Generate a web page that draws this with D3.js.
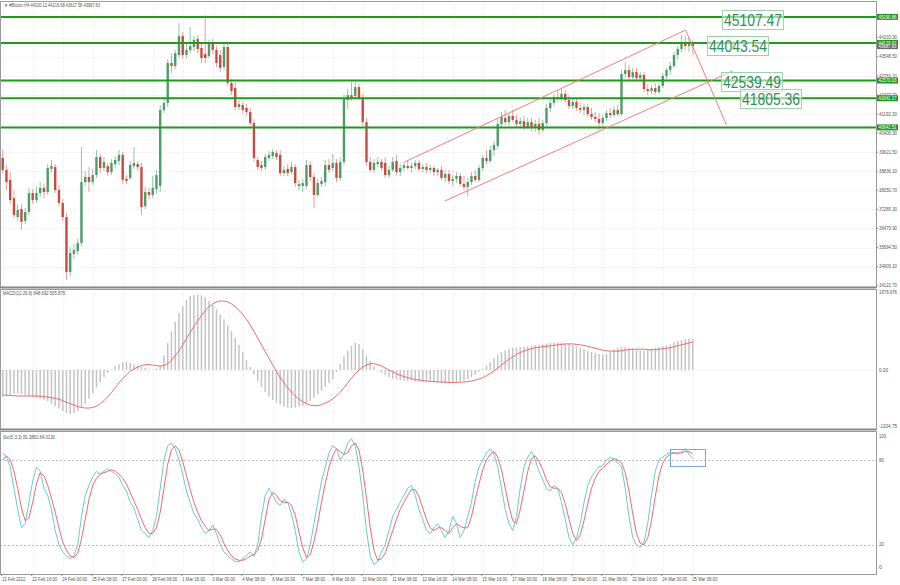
<!DOCTYPE html>
<html><head><meta charset="utf-8">
<script src="https://cdn.jsdelivr.net/npm/d3@7"></script>
<style>body{margin:0;background:#fff}svg{display:block;font-family:"Liberation Sans",Arial,sans-serif}</style>
</head><body><svg id="c" width="900" height="585"></svg>
<script>
// H4 candles: [open, high, low, close]
const ohlc=[
[39380,39710,38760,38890],[38890,39090,38060,38390],[38480,38800,37490,37650],[37730,38060,36910,37030],[36950,37450,36790,37240],
[37280,37490,36420,36750],[36790,37320,36660,37160],[37160,38150,37030,37940],[37940,38100,37490,37650],[37650,38190,37530,37940],
[37940,38390,37780,38150],[38150,38310,37730,37980],[37980,39130,37860,38970],[38930,39300,38800,39050],[39010,39130,37940,38060],
[38060,38270,37400,37530],[37530,37690,36790,36950],[36950,37120,34360,34690],[34690,35720,34520,35470],[35430,35840,35220,35590],
[35550,36050,35390,35880],[35880,39830,35760,38390],[38390,38850,38230,38600],[38600,39010,37980,38390],[38390,38930,38270,38680],
[38680,39710,38560,39420],[39420,39550,38760,38970],[38970,39420,38850,39220],[39050,39180,38640,38800],[38800,39340,38680,39180],
[39130,39460,38970,39300],[39260,39710,39090,39510],[39510,39630,38310,38480],[38520,38680,38310,38430],[38560,39260,38480,39090],
[39050,39830,38930,39180],[39130,39260,38850,39010],[39010,39180,37030,37360],[37400,38190,37280,37980],[37980,38150,37690,37860],
[37860,38640,37730,38150],[38100,38890,37900,38680],[38230,41560,37980,41360],[41360,41810,41230,41650],[41650,43460,41480,43290],
[43290,43700,42880,43170],[43170,43830,43040,43700],[43620,44940,43500,44400],[44400,44570,43460,43620],[43620,44080,43460,43830],
[43830,44770,43700,43990],[43950,44400,43790,44240],[44280,44440,43700,43870],[43910,44080,43290,43500],[43660,45270,43290,43500],
[43580,44240,43500,44120],[44120,44280,43660,43830],[43830,43990,43130,43290],[43620,43830,42920,43090],[43130,44080,43000,43950],
[43950,44080,42350,42470],[42470,42630,41970,42140],[42260,42510,41360,41480],[41480,41770,41360,41600],[41560,41690,41230,41360],
[41440,41600,41150,41280],[41280,41440,40700,40820],[40820,40990,39220,39380],[39300,39420,38890,39010],[39090,39260,38850,38970],
[39010,39550,38890,39420],[39380,39670,39260,39510],[39460,39750,39340,39630],[39590,39710,39300,39420],[39510,39710,38640,38760],
[38760,39050,38640,38890],[38930,39130,38640,38760],[38800,39220,38720,39010],[39010,39130,38190,38350],[38230,38480,38060,38310],
[38230,38520,37980,38350],[38230,39300,38100,39090],[39090,39260,38430,38600],[38600,38760,37320,37860],[37860,38520,37780,38350],
[38310,38600,38190,38430],[38390,39300,38230,39090],[39090,39340,38760,38890],[38970,39550,38850,39180],[39180,39340,38390,38560],
[38560,39420,38430,39220],[39220,42020,39090,41850],[41770,42220,41400,41970],[41970,42510,41730,41850],[41930,42550,41850,42300],
[42300,42430,41770,41850],[41850,42020,40700,40860],[40860,41030,39050,39220],[39220,39420,38800,38890],[38890,39340,38760,39180],
[39130,39420,39010,39220],[39220,39340,38850,38970],[39180,39420,38560,38680],[38680,39050,38560,38890],[38890,39420,38800,39220],
[39260,39510,38680,38800],[38800,39130,38640,38970],[38970,39220,38850,39090],[39050,39300,38890,38970],[38970,39180,38800,39050],
[39050,39300,38930,39180],[39180,39300,38850,38930],[38930,39130,38800,39010],[39010,39180,38760,38890],[38890,39090,38760,38970],
[38970,39050,38640,38800],[38800,38970,38640,38890],[38890,39050,38480,38560],[38560,38890,38390,38720],[38720,38890,38310,38430],
[38430,38680,38230,38520],[38520,38800,38350,38640],[38640,38760,38230,38310],[38310,38640,38060,38190],[38190,38560,37820,38390],
[38390,38800,38270,38640],[38640,38890,38390,38480],[38480,39090,38390,38970],[38970,39510,38850,39380],[39380,39710,39130,39260],
[39260,39880,39180,39710],[39710,40080,39460,39920],[39880,41030,39750,40780],[40780,41280,40620,41070],[41030,41360,40740,40860],
[40860,41190,40700,41110],[41110,41360,40860,40950],[40950,41150,40660,40780],[40780,41070,40620,40900],[40900,41110,40530,40660],
[40660,41030,40580,40860],[40860,41030,40490,40620],[40620,40950,40450,40780],[40780,41030,40330,40530],[40530,40950,40450,40820],
[40820,41600,40700,41440],[41440,41770,41280,41650],[41650,42020,41520,41890],[41890,42180,41690,41810],[41810,42260,41730,42020],
[42020,42180,41650,41770],[41770,41970,41400,41520],[41520,41810,41400,41690],[41690,41810,41320,41440],[41440,41650,41230,41360],
[41360,41600,41150,41480],[41480,41600,41070,41190],[41190,41440,40950,41070],[41070,41280,40860,40990],[40990,41230,40530,40820],
[40820,41150,40700,41030],[41030,41360,40900,41230],[41230,41440,41030,41150],[41150,41520,41070,41360],[41360,41560,41110,41190],
[41190,43000,41110,42840],[42840,43330,42670,43000],[43000,43210,42590,42710],[42710,43090,42630,42920],[42920,43090,42510,42670],
[42670,42920,42590,42800],[42800,42920,42100,42220],[42220,42430,41970,42140],[42140,42390,42020,42260],[42260,42470,41970,42100],
[42100,42430,42020,42350],[42350,42880,42260,42760],[42760,43090,42630,43000],[43000,43330,42840,43170],[43170,43750,43090,43620],
[43620,43990,43420,43870],[43870,44440,43750,44160],[44160,44400,43830,43990],[43990,44360,43750,44120],[44100.12,44219.68,43617.58,43987.83]];
const macdMain=[-560,-540,-520,-500,-480,-500,-520,-540,-560,-580,-600,-620,-650,-700,-750,-800,-850,-900,-920,-900,-850,-780,-700,-600,-480,-360,-250,-150,-60,20,80,120,160,170,150,120,90,70,40,20,10,30,80,300,560,800,1000,1180,1320,1450,1530,1560,1570,1550,1500,1430,1350,1260,1150,1050,930,800,660,520,370,210,60,-90,-230,-360,-460,-550,-620,-680,-720,-760,-780,-790,-780,-760,-740,-700,-640,-580,-510,-430,-350,-270,-190,-40,120,280,400,500,560,540,430,300,180,80,0,-60,-110,-150,-180,-200,-210,-220,-230,-230,-240,-240,-250,-250,-250,-260,-260,-270,-270,-270,-260,-250,-240,-220,-190,-150,-100,-40,20,90,160,240,310,370,410,440,460,470,470,480,490,500,510,520,530,540,560,570,570,560,550,540,520,490,460,430,400,370,350,330,320,330,380,430,460,480,480,460,440,420,410,400,410,440,460,480,490,510,530,570,600,620,640,650,640];
const macdSignal=[-520,-525,-530,-535,-540,-540,-540,-540,-540,-540,-545,-550,-560,-575,-590,-610,-640,-670,-700,-730,-760,-780,-790,-790,-780,-750,-700,-640,-560,-470,-370,-270,-180,-100,-30,20,60,90,110,110,100,90,80,90,130,200,290,400,520,650,780,900,1020,1130,1230,1310,1370,1410,1430,1430,1410,1370,1310,1240,1150,1050,930,800,660,520,380,240,100,-30,-160,-270,-370,-460,-540,-610,-660,-700,-730,-740,-740,-720,-690,-650,-600,-540,-460,-370,-270,-170,-80,0,60,100,130,130,110,80,40,0,-40,-80,-110,-140,-160,-180,-200,-210,-220,-230,-240,-240,-250,-250,-255,-260,-260,-260,-255,-250,-240,-230,-210,-190,-160,-120,-70,-20,40,100,160,220,270,320,360,390,420,440,460,470,480,490,500,510,520,530,540,540,540,530,520,510,490,470,450,430,410,400,390,390,390,400,410,420,430,430,430,430,420,420,420,430,440,450,460,480,500,520,540,560,580];
const stochK=[85,82,75,60,45,32,35,50,65,75,72,60,55,45,30,20,15,12,10,12,20,40,55,62,68,72,70,72,74,72,70,68,62,58,50,46,38,30,28,25,30,40,60,80,90,92,88,80,70,58,50,42,38,32,28,30,34,28,20,15,12,10,8,8,10,12,15,12,20,40,55,60,55,50,48,52,50,42,30,15,8,10,20,35,50,65,75,85,90,88,80,84,92,95,90,75,55,30,12,6,8,15,20,30,40,45,50,55,60,62,55,45,38,30,28,32,35,30,25,30,40,35,25,30,40,50,65,75,80,85,88,84,75,60,45,35,30,40,60,75,82,86,80,72,66,60,58,62,60,50,38,25,20,25,35,50,62,68,72,75,76,80,82,80,78,75,60,40,25,20,18,22,35,55,72,80,82,84,86,85,84,86,88,84,81];
const stochD=[80,83,80,72,60,46,37,39,50,63,71,69,62,53,43,32,22,16,12,11,14,24,38,52,62,67,70,71,72,73,72,70,67,63,57,51,45,38,32,28,28,32,43,60,77,87,90,87,79,69,59,50,43,37,33,30,31,31,27,21,16,12,10,9,9,10,12,13,16,24,38,52,57,55,51,50,50,48,41,29,18,11,13,22,35,50,63,75,83,88,86,84,85,90,92,87,73,53,32,16,9,10,14,22,30,38,45,50,55,59,59,54,46,38,32,30,32,32,30,28,32,35,33,32,32,40,52,63,73,80,84,86,82,73,60,47,37,35,45,58,72,81,83,79,73,66,61,60,60,57,49,38,28,23,27,37,49,60,67,72,74,77,79,81,80,78,71,58,42,28,21,20,25,37,54,69,78,82,84,85,85,85,86,86,84];
const dateLabels=["21 Feb 2022","22 Feb 16:00","24 Feb 00:00","25 Feb 08:00","27 Feb 00:00","28 Feb 08:00","1 Mar 16:00","3 Mar 00:00","4 Mar 08:00","6 Mar 00:00","7 Mar 08:00","8 Mar 16:00","10 Mar 00:00","11 Mar 08:00","12 Mar 16:00","14 Mar 08:00","15 Mar 16:00","17 Mar 00:00","18 Mar 08:00","20 Mar 00:00","21 Mar 08:00","22 Mar 16:00","24 Mar 00:00","25 Mar 08:00"];
const priceTicks=[34123.70,34909.10,35694.50,36479.90,37265.30,38050.70,38836.10,39621.50,40406.90,41192.30,41977.70,42763.10,43548.50,44333.90];
const levels=[45190.86,44120.62,42570.03,41841.17,40641.51];
const notes=[{t:"45107.47",x:722,y0:10},{t:"44043.54",x:707,y0:36},{t:"42539.49",x:721,y0:72},{t:"41805.36",x:740,y0:89}];
// trend lines: [bar index, price] -> [bar index, price]
const trendLines=[[107.2,39220,182.1,44650],[182.1,44650,193,40740],[117.9,37610,194.6,42960]];
const lastPrice=43987.83;

const svg=d3.select("#c");
const W=876;
const x=d3.scaleLinear().domain([0,183.8]).range([2.7,692]);
const y=d3.scaleLinear().domain([34123.7,44333.9]).range([285.7,37.7]);
const ym=d3.scaleLinear().domain([-1204.75,1678.976]).range([428,289]);
const ys=d3.scaleLinear().domain([0,100]).range([573,431.7]);
const panels=[[1,287],[289,429],[431,574]];

// grid
const g=svg.append("g");
panels.forEach(p=>{
  dateLabels.forEach((d,k)=>{const xx=Math.round(x(k*8))+0.5;g.append("line").attr("x1",xx).attr("x2",xx).attr("y1",p[0]).attr("y2",p[1]).attr("stroke","#ececec").attr("stroke-dasharray","1,1");});
});
priceTicks.forEach(t=>{const yy=Math.round(y(t))+0.5;g.append("line").attr("x1",0).attr("x2",W).attr("y1",yy).attr("y2",yy).attr("stroke","#ececec").attr("stroke-dasharray","1,1");});
[ys(80),ys(20)].forEach(yy=>g.append("line").attr("x1",0).attr("x2",W).attr("y1",Math.round(yy)+0.5).attr("y2",Math.round(yy)+0.5).attr("stroke","#bbb").attr("stroke-dasharray","2,2"));
g.append("line").attr("x1",0).attr("x2",W).attr("y1",Math.round(ym(0))+0.5).attr("y2",Math.round(ym(0))+0.5).attr("stroke","#ececec").attr("stroke-dasharray","1,1");

// candles
const cg=svg.append("g");
ohlc.forEach((d,i)=>{
  const [o,h,l,c]=d, up=c>=o;
  const col=up?"#4f9b69":"#c94a40",wc=up?"#93c6a3":"#e3a09a";
  const xx=x(i);
  cg.append("line").attr("x1",xx).attr("x2",xx).attr("y1",y(h)).attr("y2",y(l)).attr("stroke",wc).attr("stroke-width",1);
  cg.append("rect").attr("x",xx-1.2).attr("width",2.4).attr("y",y(Math.max(o,c))).attr("height",Math.max(1,Math.abs(y(o)-y(c)))).attr("fill",col);
});

// levels
levels.forEach(l=>svg.append("line").attr("x1",0).attr("x2",W).attr("y1",y(l)).attr("y2",y(l)).attr("stroke","#1f9a1f").attr("stroke-width",2));
trendLines.forEach(c=>svg.append("line").attr("x1",x(c[0])).attr("y1",y(c[1])).attr("x2",x(c[2])).attr("y2",y(c[3])).attr("stroke","#f27c7c").attr("stroke-width",1));
notes.forEach(nn=>{
  svg.append("rect").attr("x",nn.x+0.5).attr("y",nn.y0+0.5).attr("width",61).attr("height",19).attr("fill","#fff").attr("fill-opacity",0.55).attr("stroke","#9fcfae");
  svg.append("text").attr("x",nn.x+31).attr("y",nn.y0+15.5).attr("text-anchor","middle").attr("font-size",16).attr("textLength",58).attr("lengthAdjust","spacingAndGlyphs").attr("fill","#2f8f55").text(nn.t);
});

// MACD
const mg=svg.append("g");
macdMain.forEach((v,i)=>mg.append("rect").attr("x",x(i)-0.75).attr("width",1.5).attr("y",Math.min(ym(v),ym(0))).attr("height",Math.abs(ym(v)-ym(0))).attr("fill","#c4c4c4"));
mg.append("path").datum(macdSignal).attr("fill","none").attr("stroke","#f06a6a").attr("d",d3.line().x((d,i)=>x(i)).y(d=>ym(d)));
svg.append("path").datum(stochK).attr("fill","none").attr("stroke","#6ccaca").attr("d",d3.line().x((d,i)=>x(i)).y(d=>ys(d)));
svg.append("path").datum(stochD).attr("fill","none").attr("stroke","#f06a6a").attr("d",d3.line().x((d,i)=>x(i)).y(d=>ys(d)));
svg.append("rect").attr("x",670.5).attr("y",449.5).attr("width",35).attr("height",17).attr("fill","none").attr("stroke","#7aa6d6");

// frames
panels.forEach(p=>svg.append("rect").attr("x",0.5).attr("y",p[0]+0.5).attr("width",W).attr("height",p[1]-p[0]).attr("fill","none").attr("stroke","#9a9a9a"));
svg.append("line").attr("x1",0).attr("x2",W).attr("y1",287.5).attr("y2",287.5).attr("stroke","#888").attr("stroke-width",2);
svg.append("line").attr("x1",0).attr("x2",W).attr("y1",429.5).attr("y2",429.5).attr("stroke","#888").attr("stroke-width",2);

// axis labels
const FS=4.6;
const ax=svg.append("g").attr("font-size",FS).attr("fill","#555");
function lab(sel,xx,yy,t,len){return sel.append("text").attr("x",xx).attr("y",yy).attr("textLength",len).attr("lengthAdjust","spacingAndGlyphs").text(t);}
priceTicks.forEach(t=>{ax.append("line").attr("x1",W).attr("x2",W+2).attr("y1",y(t)).attr("y2",y(t)).attr("stroke","#888");lab(ax,879,y(t)+1.7,t.toFixed(2),18);});
levels.forEach(l=>{svg.append("rect").attr("x",877).attr("y",y(l)-3).attr("width",21).attr("height",6).attr("fill","#1f9a1f");
  lab(svg.append("g").attr("font-size",FS).attr("fill","#fff"),878.5,y(l)+1.7,l.toFixed(2),18);});
svg.append("rect").attr("x",877).attr("y",y(lastPrice)-2).attr("width",21).attr("height",5).attr("fill","#6a6a6a");
lab(svg.append("g").attr("font-size",FS).attr("fill","#fff"),878.5,y(lastPrice)+2,lastPrice.toFixed(2),18);
lab(ax,879,293.5,"1678.976",18);
lab(ax,879,ym(0)+1.7,"0.00",9);
lab(ax,879,427.5,"-1204.75",18);
[[100,"100",7],[80,"80",5],[20,"20",5],[0,"0",3]].forEach(a=>lab(ax,879,Math.min(Math.max(ys(a[0])+1.7,437.5),569),a[1],a[2]));
dateLabels.forEach((d,k)=>{const xx=x(k*8)-1;ax.append("line").attr("x1",xx).attr("x2",xx).attr("y1",574).attr("y2",576).attr("stroke","#888");lab(ax,xx+0.5,580.5,d,d.length>11?25:(d.length>10?23:21));});
lab(ax,4,6.5,"\u25BC #Bitcoin,H4  44100.12 44219.68 43617.58 43987.83",96);
lab(ax,3,294.5,"MACD(12,26,9) 648.692 505.875",62);
lab(ax,3,438.5,"Sto(5,3,3) 81.3882 84.0130",52);
</script></body></html>
